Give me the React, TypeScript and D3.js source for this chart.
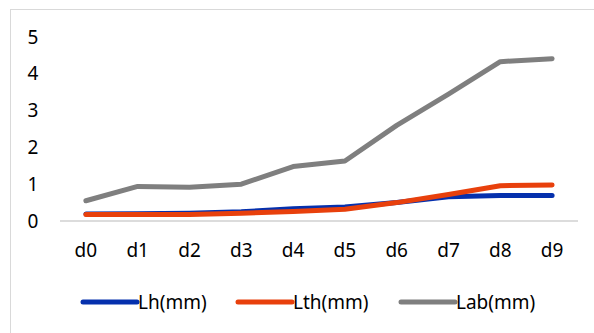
import React from "react";
import * as d3 from "d3";

const categories = ["d0", "d1", "d2", "d3", "d4", "d5", "d6", "d7", "d8", "d9"];
const lh = [0.19, 0.2, 0.21, 0.25, 0.33, 0.38, 0.5, 0.66, 0.69, 0.69];
const lth = [0.18, 0.18, 0.18, 0.21, 0.26, 0.32, 0.5, 0.72, 0.96, 0.98];
const lab = [0.55, 0.94, 0.92, 1.0, 1.48, 1.63, 2.6, 3.45, 4.33, 4.41];
const yTicks = [0, 1, 2, 3, 4, 5];
const seriesNames = ["Lh(mm)", "Lth(mm)", "Lab(mm)"];
const colors = ["#0530AD", "#E8400C", "#7F7F7F"];

export default function App() {
  const W = 594, H = 333;
  const x = d3.scaleBand<string>().domain(categories).range([60, 578]);
  const y = d3.scaleLinear().domain([0, 5]).range([221, 37]);
  const line = d3
    .line<number>()
    .x((_, i) => (x(categories[i]) as number) + x.bandwidth() / 2)
    .y((d) => y(d));
  const series = [lh, lth, lab];
  const font = "'Noto Sans', sans-serif";
  const fs = 19;
  const legendX = [83, 238, 401];
  return (
    <svg width={W} height={H} style={{ position: "absolute", left: 0, top: 0, background: "#fff" }}>
      <rect x={10.5} y={9.5} width={W} height={H} fill="#fff" stroke="#d9d9d9" strokeWidth={1} />
      {yTicks.map((t) => (
        <text key={t} x={33} y={y(t)} dy="0.35em" textAnchor="middle" fontFamily={font} fontSize={fs} fill="#000">
          {t}
        </text>
      ))}
      <line x1={60} x2={578} y1={y(0)} y2={y(0)} stroke="#d0d0d0" strokeWidth={1.5} />
      {categories.map((c) => (
        <text key={c} x={(x(c) as number) + x.bandwidth() / 2} y={250} dy="0.35em" textAnchor="middle" fontFamily={font} fontSize={fs} fill="#000">
          {c}
        </text>
      ))}
      {series.map((s, i) => (
        <path key={i} d={line(s) || ""} fill="none" stroke={colors[i]} strokeWidth={5} strokeLinecap="round" strokeLinejoin="round" />
      ))}
      {seriesNames.map((n, i) => (
        <g key={n}>
          <line x1={legendX[i]} x2={legendX[i] + 54} y1={302} y2={302} stroke={colors[i]} strokeWidth={5} strokeLinecap="round" />
          <text x={legendX[i] + 55} y={302} dy="0.35em" fontFamily={font} fontSize={fs} fill="#000">
            {n}
          </text>
        </g>
      ))}
    </svg>
  );
}
